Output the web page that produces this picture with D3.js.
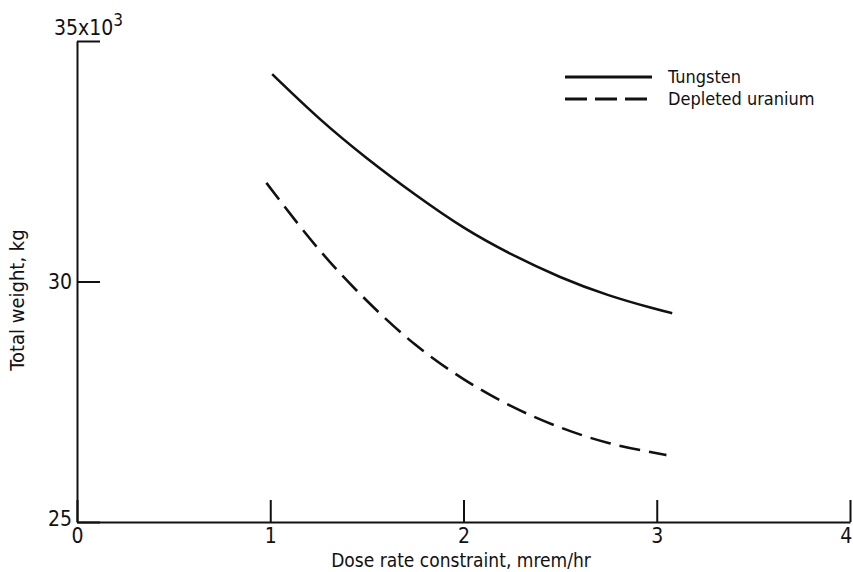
<!DOCTYPE html>
<html>
<head>
<meta charset="utf-8">
<script src="https://cdn.jsdelivr.net/npm/d3@7"></script>
<style>
  body { margin: 0; background: #fff; }
  svg text { font-family: "DejaVu Sans Condensed", "DejaVu Sans", sans-serif; font-stretch: condensed; fill: #111; }
</style>
</head>
<body>
<div id="chart"></div>
<script>
// dose rate constraint, mrem/hr
var doseTungsten = [1.01, 1.25, 1.5, 1.75, 2.0, 2.25, 2.5, 2.75, 3.0, 3.08];
// total weight, thousands of kg
var weightTungsten = [34.31, 33.38, 32.55, 31.80, 31.10, 30.55, 30.08, 29.70, 29.42, 29.34];

var doseUranium = [0.98, 1.25, 1.5, 1.75, 2.0, 2.25, 2.5, 2.75, 3.0, 3.05];
var weightUranium = [32.05, 30.63, 29.58, 28.65, 27.95, 27.38, 26.95, 26.62, 26.43, 26.39];

var xTicks = [0, 1, 2, 3, 4];
var yTicks = [25, 30, 35];
var seriesNames = ["Tungsten", "Depleted uranium"];

var width = 853,
    height = 572;

var x = d3.scaleLinear().domain([0, 4]).range([77, 850]);
var y = d3.scaleLinear().domain([25, 35]).range([522, 41]);

var svg = d3.select("#chart").append("svg")
    .attr("width", width)
    .attr("height", height);

// x axis, ticks pointing up into the plot
var xAxis = d3.axisBottom(x)
    .tickValues(xTicks)
    .tickFormat(d3.format("d"))
    .tickSizeInner(-22)
    .tickSizeOuter(0)
    .tickPadding(5);

var gx = svg.append("g")
    .attr("transform", "translate(0," + y(25) + ")")
    .call(xAxis);
gx.selectAll("path, line").attr("stroke", "#111").attr("stroke-width", 2);
gx.selectAll("text").style("font-size", "21px").attr("dy", "0.78em");
gx.selectAll(".tick").filter(function(d) { return d === 4; })
    .select("text").attr("dx", "-0.2em");

// y axis, ticks pointing right
var yAxis = d3.axisLeft(y)
    .tickValues(yTicks)
    .tickFormat(function(d) { return d === 35 ? "" : d; })
    .tickSizeInner(-23)
    .tickSizeOuter(0)
    .tickPadding(5);

var gy = svg.append("g")
    .attr("transform", "translate(" + x(0) + ",0)")
    .call(yAxis);
gy.selectAll("path, line").attr("stroke", "#111").attr("stroke-width", 2);
gy.selectAll("text").style("font-size", "21px");
gy.selectAll(".tick").filter(function(d) { return d === 25; })
    .select("text").attr("dy", "0.15em");

// multiplier label above the top tick
var topLabel = svg.append("text")
    .attr("x", x(0) - 23)
    .attr("y", y(35) - 6)
    .style("font-size", "21px");
topLabel.append("tspan").text("35x10");
topLabel.append("tspan").attr("dy", -9).style("font-size", "17px").text("3");

// axis titles
svg.append("text")
    .attr("x", 461)
    .attr("y", 567)
    .attr("text-anchor", "middle")
    .style("font-size", "19px")
    .text("Dose rate constraint,  mrem/hr");

svg.append("text")
    .attr("transform", "translate(24,300) rotate(-90)")
    .attr("text-anchor", "middle")
    .style("font-size", "20px")
    .text("Total weight,  kg");

// curves
var line = d3.line()
    .x(function(d) { return x(d[0]); })
    .y(function(d) { return y(d[1]); })
    .curve(d3.curveBasis);

var tungsten = d3.zip(doseTungsten, weightTungsten);
var uranium = d3.zip(doseUranium, weightUranium);

svg.append("path")
    .datum(tungsten)
    .attr("d", line)
    .attr("fill", "none")
    .attr("stroke", "#111")
    .attr("stroke-width", 2.6);

svg.append("path")
    .datum(uranium)
    .attr("d", line)
    .attr("fill", "none")
    .attr("stroke", "#111")
    .attr("stroke-width", 2.6)
    .attr("stroke-dasharray", "21,9");

// legend
var legend = svg.append("g").attr("transform", "translate(565,77)");
seriesNames.forEach(function(name, i) {
    var row = legend.append("g").attr("transform", "translate(0," + (i * 22) + ")");
    row.append("line")
        .attr("x1", 0).attr("x2", 87)
        .attr("stroke", "#111")
        .attr("stroke-width", 2.8)
        .attr("stroke-dasharray", i === 1 ? "22,8" : null);
    row.append("text")
        .attr("x", 103)
        .attr("y", 6)
        .style("font-size", "18px")
        .text(name);
});
</script>
</body>
</html>
